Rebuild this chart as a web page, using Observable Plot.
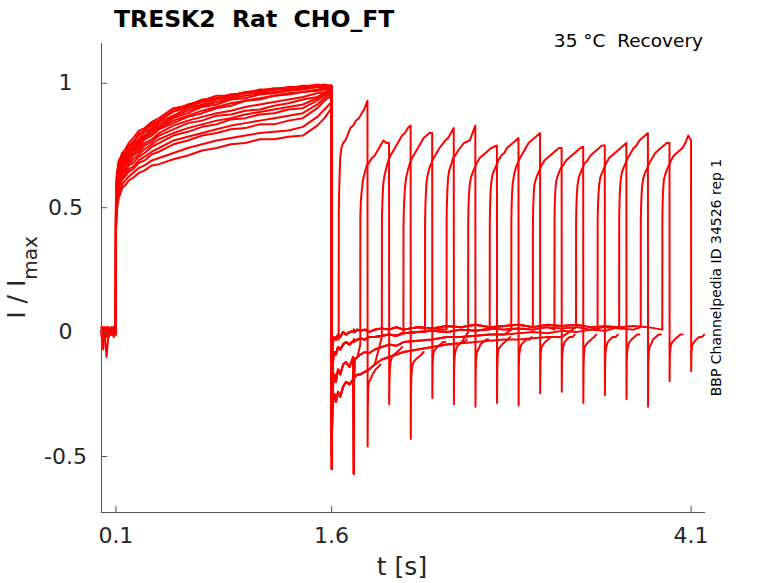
<!DOCTYPE html>
<html>
<head>
<meta charset="utf-8">
<script src="https://cdn.jsdelivr.net/npm/d3@7"></script>
<script src="https://cdn.jsdelivr.net/npm/@observablehq/plot@0.6"></script>
<style>
  html, body { margin: 0; padding: 0; background: #fff; }
  #chart { width: 778px; height: 583px; }
</style>
</head>
<body>
<div id="chart"></div>
<script>
// ---------- axis ticks & labels ----------
const xTicks = [0.1, 1.6, 4.1];
const xTickLabels = ["0.1", "1.6", "4.1"];
const yTicks = [-0.5, 0, 0.5, 1];
const yTickLabels = ["-0.5", "0", "0.5", "1"];
const xDomain = [0, 4.2];
const yDomain = [-0.725, 1.16];

const titleText = "TRESK2  Rat  CHO_FT";
const subtitleText = "35 °C  Recovery";
const sideText = "BBP Channelpedia ID 34526 rep 1";
const xLabel = "t [s]";

// ---------- first (conditioning) pulse: 0 .. 1.6 s ----------
const preT = [0, 0.012, 0.02, 0.035, 0.05, 0.07, 0.085, 0.0995,
  0.1005, 0.103, 0.107, 0.112, 0.12, 0.13, 0.145, 0.165, 0.19, 0.22, 0.26, 0.3, 0.35, 0.4,
  0.5, 0.6, 0.7, 0.8, 0.9, 1.0, 1.1, 1.2, 1.3, 1.4, 1.5, 1.55, 1.5995];
const preCurve0 = [0.01, 0.0, 0.02, 0.01, -0.01, 0.02, 0.01, 0.0,
  0.52, 0.58, 0.63, 0.65, 0.68, 0.69, 0.72, 0.72, 0.75, 0.76, 0.8, 0.81, 0.84, 0.85,
  0.89, 0.915, 0.93, 0.95, 0.95, 0.965, 0.97, 0.98, 0.98, 0.99, 0.99, 0.995, 0.985];
const preCurve1 = [0.0, 0.02, 0.01, -0.01, 0.0, 0.01, 0.0, 0.01,
  0.5, 0.56, 0.6, 0.64, 0.655, 0.68, 0.695, 0.715, 0.73, 0.755, 0.775, 0.805, 0.82, 0.845,
  0.87, 0.9, 0.915, 0.935, 0.945, 0.96, 0.965, 0.975, 0.975, 0.985, 0.985, 0.99, 0.99];
const preCurve2 = [-0.01, 0.01, 0.0, 0.02, 0.01, 0.0, 0.02, 0.0,
  0.48, 0.54, 0.59, 0.615, 0.645, 0.66, 0.685, 0.695, 0.72, 0.735, 0.765, 0.785, 0.81, 0.825,
  0.86, 0.88, 0.905, 0.915, 0.935, 0.94, 0.955, 0.96, 0.97, 0.975, 0.985, 0.985, 0.99];
const preCurve3 = [0.02, 0.0, -0.02, 0.0, 0.01, -0.01, 0.0, 0.01,
  0.47, 0.52, 0.57, 0.605, 0.625, 0.65, 0.665, 0.685, 0.7, 0.725, 0.745, 0.775, 0.79, 0.815,
  0.84, 0.865, 0.88, 0.9, 0.91, 0.93, 0.935, 0.95, 0.955, 0.965, 0.97, 0.975, 0.98];
const preCurve4 = [0.0, -0.07, 0.0, -0.01, 0.01, 0.0, -0.01, 0.0,
  0.45, 0.5, 0.55, 0.585, 0.61, 0.635, 0.65, 0.67, 0.685, 0.71, 0.725, 0.75, 0.765, 0.79,
  0.815, 0.84, 0.85, 0.87, 0.875, 0.89, 0.895, 0.91, 0.92, 0.935, 0.945, 0.96, 0.97];
const preCurve5 = [0.01, 0.0, 0.01, -0.1, 0.0, 0.01, 0.0, -0.01,
  0.44, 0.49, 0.535, 0.565, 0.595, 0.61, 0.635, 0.645, 0.67, 0.68, 0.705, 0.72, 0.745, 0.76,
  0.79, 0.805, 0.825, 0.835, 0.855, 0.86, 0.875, 0.88, 0.895, 0.9, 0.93, 0.95, 0.965];
const preCurve6 = [0.0, 0.01, -0.01, 0.0, -0.02, 0.01, 0.0, 0.0,
  0.42, 0.47, 0.515, 0.55, 0.58, 0.595, 0.615, 0.625, 0.645, 0.655, 0.68, 0.69, 0.715, 0.725,
  0.755, 0.77, 0.79, 0.8, 0.815, 0.82, 0.835, 0.835, 0.85, 0.86, 0.9, 0.93, 0.95];
const preCurve7 = [-0.01, 0.0, 0.01, -0.02, 0.0, -0.01, 0.01, 0.0,
  0.4, 0.44, 0.485, 0.51, 0.54, 0.555, 0.58, 0.59, 0.61, 0.62, 0.64, 0.65, 0.67, 0.675,
  0.695, 0.71, 0.73, 0.74, 0.755, 0.76, 0.775, 0.775, 0.785, 0.79, 0.83, 0.86, 0.9];
const preCurve8 = [0.01, 0.01, 0.0, 0.0, 0.02, -0.01, 0.01, 0.0,
  0.51, 0.57, 0.615, 0.645, 0.67, 0.685, 0.705, 0.72, 0.745, 0.765, 0.79, 0.815, 0.83, 0.85,
  0.885, 0.905, 0.925, 0.94, 0.955, 0.96, 0.97, 0.975, 0.98, 0.985, 0.99, 0.99, 0.99];
const preCurve9 = [0.0, -0.01, 0.01, 0.02, 0.0, 0.0, -0.01, 0.01,
  0.49, 0.55, 0.595, 0.625, 0.65, 0.67, 0.69, 0.705, 0.725, 0.745, 0.77, 0.79, 0.815, 0.835,
  0.865, 0.89, 0.91, 0.925, 0.94, 0.95, 0.96, 0.965, 0.97, 0.98, 0.985, 0.99, 0.99];
const preCurve10 = [0.01, 0.0, -0.01, 0.01, 0.0, 0.02, 0.0, -0.01,
  0.475, 0.53, 0.58, 0.61, 0.635, 0.655, 0.675, 0.69, 0.71, 0.73, 0.755, 0.78, 0.8, 0.82,
  0.85, 0.87, 0.89, 0.905, 0.92, 0.93, 0.94, 0.95, 0.96, 0.965, 0.975, 0.98, 0.985];
const preCurve11 = [-0.02, 0.0, 0.01, 0.0, -0.01, 0.0, 0.01, 0.0,
  0.46, 0.51, 0.56, 0.59, 0.62, 0.64, 0.66, 0.675, 0.695, 0.715, 0.735, 0.76, 0.775, 0.8,
  0.83, 0.85, 0.865, 0.88, 0.89, 0.905, 0.915, 0.925, 0.935, 0.945, 0.96, 0.965, 0.975];
const preCurve12 = [0.0, 0.01, 0.0, -0.01, 0.0, 0.01, -0.02, 0.0,
  0.445, 0.495, 0.54, 0.575, 0.6, 0.62, 0.64, 0.655, 0.675, 0.695, 0.715, 0.735, 0.755, 0.775,
  0.8, 0.82, 0.835, 0.85, 0.86, 0.875, 0.885, 0.895, 0.905, 0.915, 0.94, 0.955, 0.97];
const preCurve13 = [0.01, -0.01, 0.0, 0.01, -0.01, 0.0, 0.0, 0.01,
  0.43, 0.48, 0.52, 0.56, 0.585, 0.6, 0.62, 0.635, 0.655, 0.665, 0.69, 0.705, 0.725, 0.74,
  0.77, 0.785, 0.8, 0.815, 0.83, 0.84, 0.85, 0.86, 0.87, 0.88, 0.915, 0.94, 0.96];
const preCurve14 = [0.0, 0.0, -0.01, 0.01, 0.0, -0.01, 0.01, 0.0,
  0.41, 0.455, 0.5, 0.53, 0.555, 0.575, 0.595, 0.61, 0.625, 0.64, 0.66, 0.67, 0.69, 0.7,
  0.72, 0.74, 0.755, 0.77, 0.78, 0.79, 0.8, 0.805, 0.81, 0.825, 0.865, 0.895, 0.925];
const preCurve15 = [0.02, 0.01, 0.0, 0.01, 0.0, 0.01, 0.02, 0.01,
  0.55, 0.6, 0.64, 0.66, 0.69, 0.7, 0.72, 0.735, 0.76, 0.78, 0.81, 0.82, 0.845, 0.86,
  0.9, 0.91, 0.935, 0.94, 0.955, 0.96, 0.975, 0.975, 0.985, 0.985, 0.995, 0.99, 0.99];
const preCurves = [preCurve0, preCurve1, preCurve2, preCurve3, preCurve4, preCurve5, preCurve6, preCurve7,
  preCurve8, preCurve9, preCurve10, preCurve11, preCurve12, preCurve13, preCurve14, preCurve15];

// ---------- recovery interval at rest (after 1.6 s) ----------
const recT = [1.6005, 1.602, 1.606, 1.612, 1.62, 1.63, 1.645, 1.66, 1.68, 1.7, 1.725, 1.75,
  1.754, 1.756, 1.76, 1.78, 1.8, 1.83, 1.86, 1.9, 1.95, 2.0, 2.05, 2.1, 2.2, 2.3, 2.4, 2.5,
  2.6, 2.7, 2.8, 2.9, 3.0, 3.1, 3.2, 3.3, 3.4, 3.5, 3.6, 3.7, 3.8, 3.9];
const rec0 = [-0.3, -0.12, -0.06, -0.03, -0.02, -0.03, -0.01, -0.02, 0.0, -0.01, 0.0, 0.005,
  0.0, 0.01, 0.0, 0.01, 0.005, 0.01, 0.0, 0.01, 0.015, 0.01, 0.02, 0.01, 0.02, 0.015, 0.025, 0.02,
  0.03, 0.02, 0.025, 0.03, 0.02, 0.03, 0.025, 0.03, 0.02, 0.025, 0.02, 0.025, 0.02, 0.015];
const rec1 = [-0.42, -0.25, -0.15, -0.1, -0.08, -0.09, -0.06, -0.07, -0.05, -0.04, -0.05, -0.035,
  -0.04, -0.03, -0.035, -0.03, -0.025, -0.03, -0.02, -0.02, -0.015, -0.01, -0.015, -0.005, 0.0, 0.005, 0.0, 0.01,
  0.005, 0.015, 0.01, 0.015, 0.01, 0.02, 0.015, 0.02, 0.01, 0.02, 0.015, 0.01, 0.015, 0.01];
const rec2 = [-0.5, -0.35, -0.25, -0.2, -0.17, -0.2, -0.15, -0.17, -0.13, -0.12, -0.14, -0.1,
  -0.57, -0.2, -0.11, -0.1, -0.09, -0.08, -0.085, -0.07, -0.06, -0.05, -0.055, -0.04, -0.035, -0.03, -0.02, -0.02,
  -0.015, -0.01, -0.01, -0.005, 0.0, -0.005, 0.005, 0.0, 0.01, 0.005, 0.0, 0.01, 0.005, 0.0];
const rec3 = [-0.55, -0.42, -0.32, -0.27, -0.25, -0.28, -0.24, -0.26, -0.22, -0.2, -0.21, -0.19,
  -0.19, -0.18, -0.18, -0.17, -0.17, -0.16, -0.15, -0.13, -0.11, -0.1, -0.09, -0.08, -0.07, -0.06, -0.05, -0.045,
  -0.04, -0.035, -0.03, -0.03, -0.025, -0.02, -0.02, -0.015, -0.01, -0.015, -0.01, -0.005, -0.01, -0.005];
const recCurves = [rec0, rec1, rec2, rec3];

// ---------- test pulses (one per sweep) ----------
const testStart = [1.65, 1.8, 1.95, 2.1, 2.25, 2.4, 2.55, 2.7, 2.85, 3.0, 3.15, 3.3, 3.45, 3.6, 3.75, 3.9];
const sweepPre = [0, 9, 13, 3, 11, 7, 15, 5, 8, 2, 14, 1, 12, 6, 10, 4];
const sweepRec = [0, 2, 3, 1, 1, 0, 3, 1, 2, 0, 1, 3, 0, 2, 1, 0];

const pulseRelT = [-0.0005, 0, 0.002, 0.005, 0.01, 0.018, 0.03, 0.045, 0.06, 0.08, 0.1, 0.12, 0.14, 0.16, 0.18, 0.1995];
const pulseI = [
  [-0.03, 0.47, 0.55, 0.62, 0.7, 0.74, 0.76, 0.77, 0.79, 0.82, 0.83, 0.85, 0.86, 0.88, 0.9, 0.93],
  [-0.05, 0.47, 0.5, 0.54, 0.57, 0.61, 0.64, 0.67, 0.68, 0.7, 0.71, 0.73, 0.75, 0.77, 0.76, 0.76],
  [-0.02, 0.45, 0.5, 0.55, 0.6, 0.63, 0.66, 0.69, 0.71, 0.73, 0.75, 0.77, 0.79, 0.8, 0.82, 0.83],
  [0.0, 0.42, 0.48, 0.53, 0.58, 0.62, 0.65, 0.68, 0.7, 0.72, 0.74, 0.76, 0.78, 0.79, 0.8, 0.8],
  [0.0, 0.44, 0.5, 0.55, 0.6, 0.63, 0.66, 0.68, 0.7, 0.72, 0.74, 0.755, 0.77, 0.78, 0.8, 0.82],
  [0.01, 0.46, 0.52, 0.57, 0.62, 0.65, 0.67, 0.7, 0.71, 0.73, 0.745, 0.76, 0.765, 0.77, 0.8, 0.83],
  [0.0, 0.45, 0.5, 0.55, 0.59, 0.62, 0.64, 0.66, 0.68, 0.7, 0.71, 0.72, 0.73, 0.74, 0.745, 0.75],
  [0.01, 0.44, 0.5, 0.56, 0.6, 0.63, 0.65, 0.67, 0.69, 0.71, 0.72, 0.74, 0.75, 0.76, 0.77, 0.78],
  [0.01, 0.45, 0.51, 0.56, 0.6, 0.63, 0.66, 0.68, 0.7, 0.72, 0.74, 0.76, 0.77, 0.78, 0.79, 0.8],
  [0.02, 0.44, 0.5, 0.55, 0.59, 0.61, 0.63, 0.65, 0.67, 0.69, 0.7, 0.71, 0.72, 0.73, 0.74, 0.74],
  [0.01, 0.45, 0.51, 0.56, 0.6, 0.62, 0.64, 0.66, 0.67, 0.69, 0.7, 0.71, 0.72, 0.73, 0.74, 0.745],
  [0.02, 0.44, 0.5, 0.55, 0.59, 0.62, 0.64, 0.66, 0.68, 0.69, 0.71, 0.72, 0.73, 0.74, 0.75, 0.75],
  [0.01, 0.45, 0.5, 0.55, 0.59, 0.62, 0.64, 0.66, 0.68, 0.7, 0.71, 0.72, 0.73, 0.74, 0.75, 0.76],
  [0.02, 0.46, 0.52, 0.57, 0.61, 0.64, 0.66, 0.68, 0.7, 0.72, 0.74, 0.75, 0.77, 0.78, 0.79, 0.8],
  [0.02, 0.45, 0.5, 0.55, 0.59, 0.62, 0.64, 0.66, 0.68, 0.7, 0.72, 0.73, 0.74, 0.75, 0.76, 0.76],
  [0.01, 0.46, 0.52, 0.57, 0.61, 0.63, 0.65, 0.67, 0.69, 0.71, 0.72, 0.73, 0.74, 0.76, 0.79, 0.77]
];

// ---------- tail after each test pulse ----------
const tailRelT = [0.2005, 0.202, 0.205, 0.21, 0.22, 0.235, 0.255, 0.275, 0.29];
const tailI = [
  [-0.46, -0.3, -0.22, -0.2, -0.19, -0.17, -0.15, -0.14, -0.13],
  [-0.29, -0.2, -0.15, -0.12, -0.1, -0.09, -0.08, -0.07, -0.06],
  [-0.43, -0.25, -0.17, -0.14, -0.12, -0.11, -0.1, -0.09, -0.08],
  [-0.265, -0.15, -0.1, -0.08, -0.07, -0.06, -0.05, -0.04, -0.04],
  [-0.29, -0.15, -0.1, -0.08, -0.06, -0.05, -0.04, -0.04, -0.03],
  [-0.30, -0.16, -0.11, -0.08, -0.07, -0.05, -0.04, -0.03, -0.03],
  [-0.285, -0.15, -0.1, -0.07, -0.06, -0.05, -0.04, -0.03, -0.02],
  [-0.295, -0.14, -0.09, -0.07, -0.05, -0.04, -0.03, -0.03, -0.02],
  [-0.246, -0.13, -0.08, -0.06, -0.05, -0.04, -0.03, -0.02, -0.02],
  [-0.24, -0.12, -0.08, -0.06, -0.04, -0.03, -0.02, -0.02, -0.01],
  [-0.285, -0.14, -0.09, -0.06, -0.05, -0.04, -0.03, -0.02, -0.01],
  [-0.254, -0.12, -0.08, -0.06, -0.04, -0.03, -0.02, -0.02, -0.01],
  [-0.27, -0.13, -0.08, -0.06, -0.04, -0.03, -0.02, -0.01, -0.01],
  [-0.30, -0.14, -0.09, -0.06, -0.05, -0.03, -0.02, -0.01, -0.01],
  [-0.197, -0.1, -0.07, -0.05, -0.04, -0.03, -0.02, -0.01, -0.01],
  [-0.157, -0.09, -0.06, -0.05, -0.04, -0.03, -0.02, -0.02, -0.01]
];

// ---------- assemble sweeps ----------
const rows = [];
testStart.forEach((ts, k) => {
  const pc = preCurves[sweepPre[k]];
  preT.forEach((t, i) => rows.push({sweep: k, t, I: pc[i]}));
  const rc = recCurves[sweepRec[k]];
  recT.forEach((t, i) => { if (t < ts - 0.002) rows.push({sweep: k, t, I: rc[i]}); });
  pulseRelT.forEach((dt, i) => rows.push({sweep: k, t: ts + dt, I: pulseI[k][i]}));
  tailRelT.forEach((dt, i) => rows.push({sweep: k, t: ts + dt, I: tailI[k][i]}));
});

const W = 778, H = 583, ML = 101, MR = 73, MT = 43, MB = 71;
const axisColor = "#555555";
const textColor = "#262626";
const tickLen = 6;

const chart = Plot.plot({
  width: W, height: H,
  marginLeft: ML, marginRight: MR, marginTop: MT, marginBottom: MB,
  x: {domain: xDomain, axis: null},
  y: {domain: yDomain, axis: null},
  style: {fontFamily: "'DejaVu Sans', sans-serif", background: "#fff", color: textColor, overflow: "visible"},
  marks: [
    Plot.line(rows, {x: "t", y: "I", z: "sweep", stroke: "#ff0000", strokeWidth: 2, strokeLinejoin: "round"}),
    Plot.ruleX([xDomain[0]], {stroke: axisColor, strokeWidth: 1}),
    Plot.ruleY([yDomain[0]], {stroke: axisColor, strokeWidth: 1}),
    Plot.tickY(yTicks, {y: d => d, stroke: axisColor, insetRight: W - ML - MR - tickLen}),
    Plot.tickX(xTicks, {x: d => d, stroke: axisColor, insetTop: H - MT - MB - tickLen}),
    Plot.text(yTicks, {y: d => d, frameAnchor: "left", dx: -36, text: (d, i) => yTickLabels[i],
      fontSize: 22, textAnchor: "middle", fill: textColor}),
    Plot.text(xTicks, {x: d => d, frameAnchor: "bottom", dy: 15, lineAnchor: "top", text: (d, i) => xTickLabels[i],
      fontSize: 22, textAnchor: "middle", fill: textColor})
  ]
});
document.getElementById("chart").appendChild(chart);

const svg = d3.select(chart);
svg.append("text").attr("x", 114).attr("y", 26.5).attr("text-anchor", "start")
  .attr("font-family", "'DejaVu Sans', sans-serif").attr("font-weight", "bold")
  .attr("font-size", 23.5).attr("fill", "#000").text(titleText);
svg.append("text").attr("x", 703).attr("y", 46.5).attr("text-anchor", "end")
  .attr("font-family", "'DejaVu Sans', sans-serif").attr("font-size", 18.5)
  .attr("fill", "#000").text(subtitleText);
svg.append("text").attr("transform", "translate(721,277.5) rotate(-90)").attr("text-anchor", "middle")
  .attr("font-family", "'DejaVu Sans', sans-serif").attr("font-size", 14)
  .attr("fill", "#000").text(sideText);
svg.append("text").attr("x", 402).attr("y", 575).attr("text-anchor", "middle")
  .attr("font-family", "'DejaVu Sans', sans-serif").attr("font-size", 25)
  .attr("fill", textColor).text(xLabel);
const yl = svg.append("text").attr("transform", "translate(25,277.5) rotate(-90)").attr("text-anchor", "middle")
  .attr("font-family", "'DejaVu Sans', sans-serif").attr("font-size", 25).attr("fill", textColor);
yl.append("tspan").text("I / I");
yl.append("tspan").attr("font-size", 20).attr("dy", 12).text("max");
</script>
</body>
</html>
